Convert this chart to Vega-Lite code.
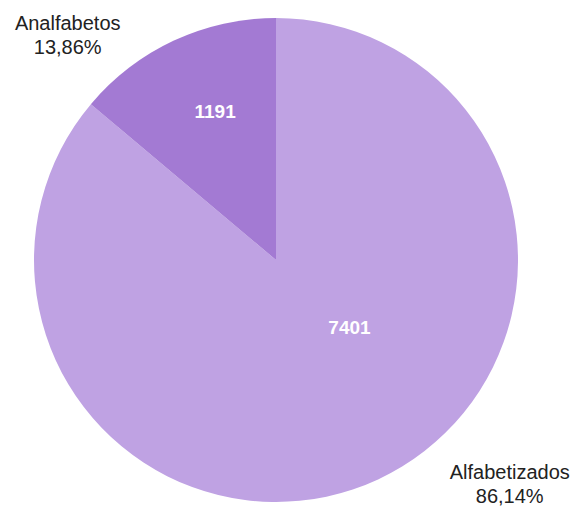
{
  "$schema": "https://vega.github.io/schema/vega-lite/v6.json",
  "width": 552,
  "height": 492,
  "autosize": "none",
  "padding": {"left": 0, "top": 14, "right": 27, "bottom": 0},
  "background": "white",
  "config": {"view": {"stroke": null}},
  "data": {"values": [
    {"categoria": "Alfabetizados", "valor": 7401, "rotulo": "Alfabetizados\n86,14%"},
    {"categoria": "Analfabetos", "valor": 1191, "rotulo": "Analfabetos\n13,86%"}
  ]},
  "encoding": {
    "theta": {"field": "valor", "type": "quantitative", "stack": true},
    "order": {"field": "categoria", "type": "nominal", "sort": "ascending"}
  },
  "layer": [
    {
      "mark": {"type": "arc", "outerRadius": 242, "stroke": null},
      "encoding": {
        "color": {"field": "categoria", "type": "nominal",
          "scale": {"domain": ["Alfabetizados", "Analfabetos"], "range": ["#BFA2E3", "#A37AD3"]},
          "legend": null}
      }
    },
    {
      "mark": {"type": "text", "radius": 160, "thetaOffset": 0.045, "font": "Liberation Sans", "fontSize": 19, "fontWeight": "bold", "fill": "white"},
      "encoding": {"text": {"condition": {"test": "datum.categoria === 'Analfabetos'", "field": "valor", "type": "quantitative", "format": "d"}, "value": ""}}
    },
    {
      "mark": {"type": "text", "radius": 100, "thetaOffset": -0.39, "font": "Liberation Sans", "fontSize": 19, "fontWeight": "bold", "fill": "white"},
      "encoding": {"text": {"condition": {"test": "datum.categoria === 'Alfabetizados'", "field": "valor", "type": "quantitative", "format": "d"}, "value": ""}}
    },
    {
      "mark": {"type": "text", "radius": 315, "thetaOffset": -0.287, "font": "Liberation Sans", "fontSize": 20, "fill": "#222222", "lineBreak": "\n", "lineHeight": 24, "align": "center", "baseline": "middle"},
      "encoding": {"text": {"condition": {"test": "datum.categoria === 'Analfabetos'", "field": "rotulo", "type": "nominal"}, "value": ""}}
    },
    {
      "mark": {"type": "text", "radius": 316, "thetaOffset": -0.397, "font": "Liberation Sans", "fontSize": 20, "fill": "#222222", "lineBreak": "\n", "lineHeight": 24, "align": "center", "baseline": "middle"},
      "encoding": {"text": {"condition": {"test": "datum.categoria === 'Alfabetizados'", "field": "rotulo", "type": "nominal"}, "value": ""}}
    }
  ]
}
